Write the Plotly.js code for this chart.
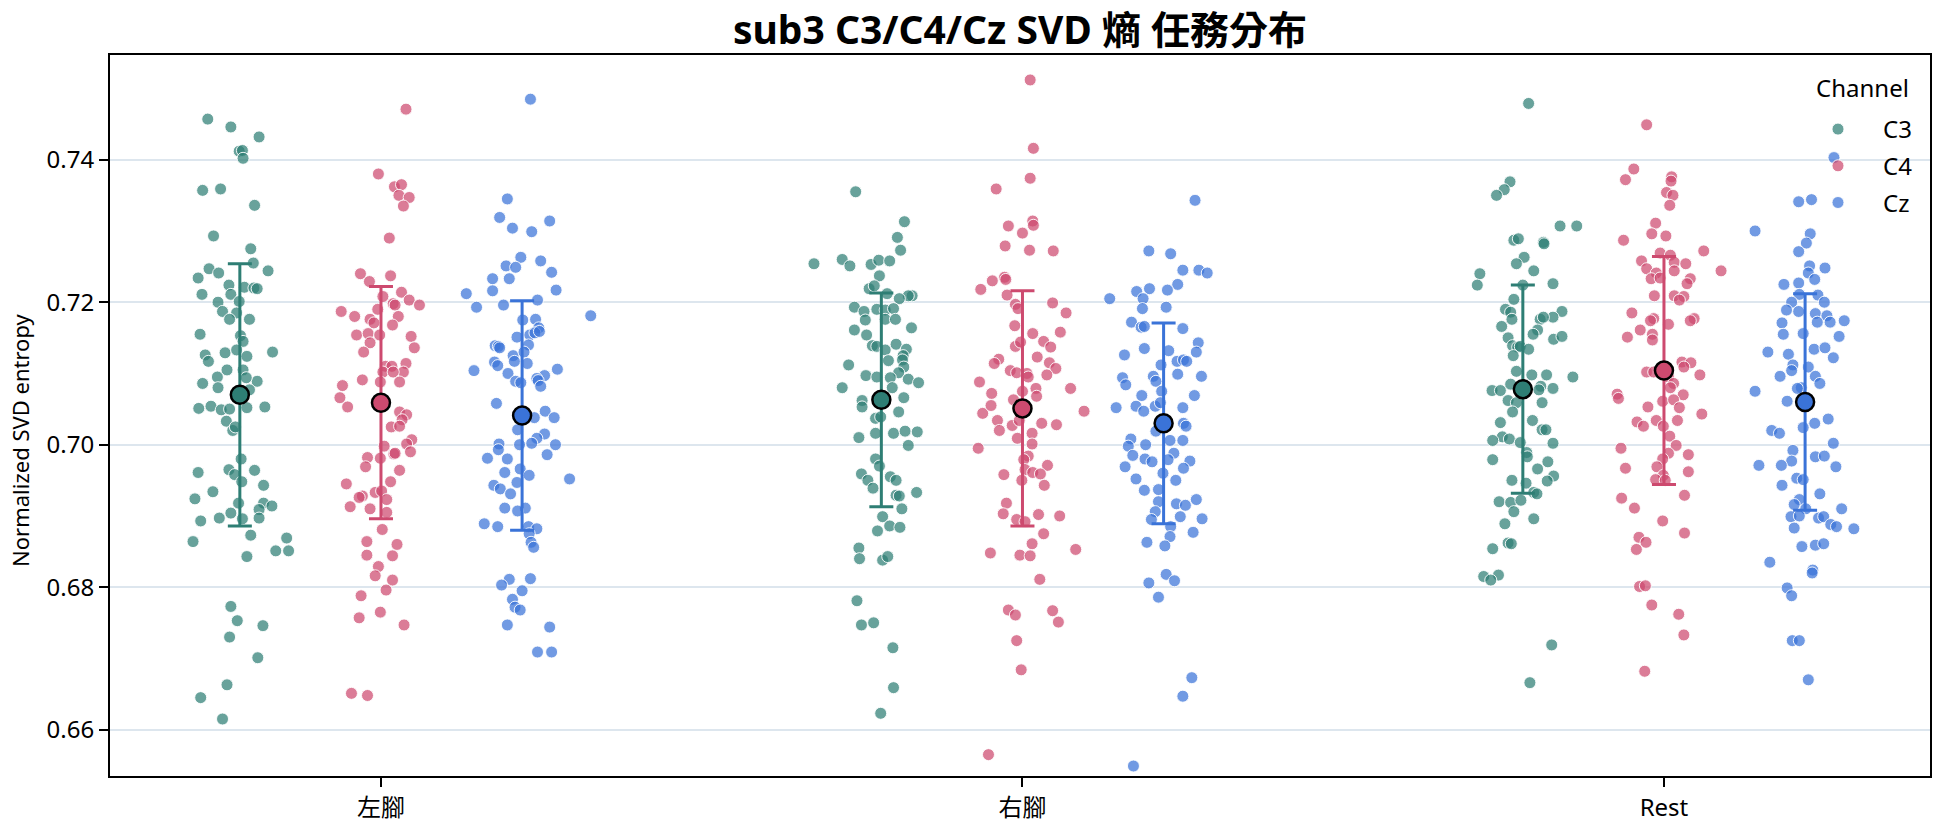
<!DOCTYPE html>
<html>
<head>
<meta charset="utf-8">
<script src="https://cdn.plot.ly/plotly-3.0.1.min.js"></script>
<style>
  html, body { margin: 0; padding: 0; background: #ffffff; }
  #chart { width: 1944px; height: 827px; }
</style>
</head>
<body>
<div id="chart"></div>
<script>
// Task categories and EEG channels
const categories = ['左腳', '右腳', 'Rest'];
const channels = ['C3', 'C4', 'Cz'];

// Per-trial normalized SVD entropy, with the horizontal strip jitter of each trial
const c3Left = [0.7457,0.7446,0.7432,0.7412,0.7413,0.7402,0.7357,0.7359,0.7336,0.7293,0.7275,0.7255,0.7247,0.7241,0.7234,0.7244,0.7224,0.7221,0.7220,0.7219,0.7211,0.7211,0.7200,0.7201,0.7187,0.7185,0.7176,0.7176,0.7155,0.7153,0.7145,0.7130,0.7129,0.7126,0.7117,0.7124,0.7133,0.7105,0.7105,0.7095,0.7086,0.7080,0.7089,0.7094,0.7077,0.7051,0.7054,0.7049,0.7050,0.7052,0.7053,0.7033,0.7020,0.7025,
  0.6980,0.6961,0.6965,0.6958,0.6964,0.6948,0.6943,0.6934,0.6924,0.6918,0.6918,0.6914,0.6909,0.6904,0.6897,0.6893,0.6897,0.6896,0.6873,0.6864,0.6869,0.6851,0.6851,0.6843,0.6773,0.6753,0.6746,0.6730,0.6701,0.6663,0.6645,0.6615];
const c3LeftJitter = [-0.050,-0.014,0.030,-0.001,0.004,0.005,-0.058,-0.030,0.023,-0.041,0.017,0.021,-0.048,-0.033,-0.065,0.044,-0.017,0.007,0.022,0.027,-0.059,-0.014,-0.034,-0.001,-0.027,-0.005,0.015,-0.016,-0.062,0.001,0.005,0.051,-0.023,-0.054,-0.049,0.011,-0.005,-0.020,0.005,-0.035,-0.058,-0.034,0.027,0.010,0.015,-0.064,-0.045,-0.029,-0.016,0.011,0.039,-0.021,-0.011,-0.007,
  0.002,-0.065,-0.017,-0.008,0.023,0.003,0.037,-0.042,-0.070,-0.002,0.037,0.050,0.030,-0.014,-0.032,-0.061,0.030,0.004,0.017,-0.073,0.073,0.056,0.076,0.011,-0.014,-0.004,0.036,-0.016,0.028,-0.020,-0.061,-0.027];

const c4Left = [0.7471,0.7380,0.7362,0.7365,0.7350,0.7347,0.7335,0.7290,0.7240,0.7237,0.7229,0.7214,0.7208,0.7203,0.7196,0.7198,0.7196,0.7187,0.7180,0.7190,0.7180,0.7176,0.7171,0.7168,0.7154,0.7156,0.7154,0.7152,0.7143,0.7136,0.7130,0.7110,0.7110,0.7114,0.7102,0.7102,0.7102,0.7091,0.7088,0.7088,0.7083,0.7066,0.7053,0.7046,0.7042,0.7035,0.7025,0.7026,
  0.7007,0.7001,0.6998,0.6982,0.6981,0.6987,0.6990,0.6988,0.6969,0.6964,0.6948,0.6945,0.6928,0.6926,0.6933,0.6935,0.6923,0.6913,0.6910,0.6905,0.6881,0.6864,0.6860,0.6845,0.6844,0.6829,0.6816,0.6810,0.6796,0.6788,0.6765,0.6757,0.6747,0.6651,0.6648];
const c4LeftJitter = [0.039,-0.004,0.021,0.032,0.028,0.044,0.035,0.013,-0.032,0.015,-0.018,0.032,0.003,0.044,0.060,0.019,0.022,-0.062,-0.041,-0.005,0.027,-0.017,-0.011,0.018,-0.038,-0.020,-0.002,0.047,-0.017,0.052,-0.027,0.007,0.017,0.039,0.035,0.003,0.019,-0.029,-0.001,0.029,-0.060,-0.064,-0.052,0.029,0.040,0.033,0.016,0.029,
  0.048,0.040,0.005,-0.021,-0.001,0.020,0.046,0.022,-0.024,0.029,0.015,-0.054,-0.029,-0.034,-0.009,0.001,0.009,-0.048,-0.017,0.009,0.002,-0.022,0.025,-0.022,0.018,-0.004,-0.009,0.018,0.008,-0.031,-0.001,-0.034,0.036,-0.046,-0.021];

const czLeft = [0.7485,0.7345,0.7319,0.7304,0.7299,0.7314,0.7263,0.7251,0.7249,0.7258,0.7242,0.7233,0.7233,0.7216,0.7217,0.7212,0.7203,0.7193,0.7196,0.7181,0.7175,0.7176,0.7164,0.7154,0.7157,0.7151,0.7159,0.7139,0.7138,0.7136,0.7140,0.7125,0.7130,0.7116,0.7111,0.7117,0.7114,0.7104,0.7106,0.7100,0.7097,0.7089,0.7093,0.7090,0.7087,0.7082,0.7058,0.7038,0.7047,0.7038,0.7021,0.7015,0.7009,
  0.7001,0.6993,0.7000,0.7002,0.7000,0.6981,0.6980,0.6986,0.6966,0.6961,0.6957,0.6943,0.6938,0.6931,0.6947,0.6911,0.6911,0.6907,0.6889,0.6885,0.6885,0.6882,0.6875,0.6863,0.6856,0.6952,0.6811,0.6812,0.6803,0.6795,0.6783,0.6772,0.6768,0.6747,0.6744,0.6709,0.6709];
const czLeftJitter = [0.013,-0.023,-0.035,-0.015,0.015,0.043,-0.002,-0.025,-0.010,0.029,0.046,-0.046,-0.020,-0.046,0.053,-0.087,0.024,-0.071,-0.029,0.107,0.001,0.021,0.026,0.012,0.020,-0.008,0.027,-0.042,-0.037,-0.035,0.010,-0.014,0.003,-0.043,-0.038,-0.012,0.008,-0.075,0.055,-0.022,0.035,-0.010,0.023,0.025,-0.002,0.029,-0.040,0.019,0.036,0.050,-0.007,0.035,0.023,
  -0.036,-0.037,-0.004,0.015,0.052,-0.054,-0.023,0.039,-0.003,-0.027,0.011,-0.044,-0.034,-0.018,-0.008,-0.027,0.005,-0.007,-0.059,-0.038,0.010,0.023,0.011,0.014,0.018,0.074,-0.020,0.013,-0.032,0.000,-0.015,-0.011,-0.003,-0.023,0.043,0.024,0.046];

const c3Right = [0.7355,0.7313,0.7291,0.7273,0.7254,0.7260,0.7251,0.7253,0.7259,0.7258,0.7237,0.7219,0.7223,0.7209,0.7209,0.7205,0.7212,0.7193,0.7187,0.7190,0.7189,0.7191,0.7175,0.7176,0.7176,0.7161,0.7154,0.7164,0.7139,0.7138,0.7133,0.7141,0.7134,0.7125,0.7119,0.7112,0.7118,0.7109,0.7101,0.7094,0.7097,0.7095,0.7080,0.7092,0.7087,0.7080,0.7066,0.7062,0.7053,0.7046,0.7037,0.7039,0.7010,0.7016,0.7016,0.7019,0.7018,
  0.6999,0.6980,0.6970,0.6959,0.6950,0.6955,0.6950,0.6939,0.6933,0.6929,0.6928,0.6910,0.6899,0.6886,0.6884,0.6879,0.6855,0.6840,0.6838,0.6843,0.6781,0.6747,0.6750,0.6715,0.6659,0.6623];
const c3RightJitter = [-0.040,0.036,0.025,0.030,-0.105,-0.061,-0.049,-0.016,-0.004,0.013,-0.003,-0.019,-0.011,0.048,0.042,0.028,0.009,-0.042,-0.027,-0.007,0.006,0.019,-0.025,0.006,0.022,-0.042,-0.023,0.047,-0.014,-0.007,0.006,0.023,0.039,0.034,0.033,-0.051,0.011,0.035,0.027,0.014,-0.024,-0.007,-0.061,0.042,0.058,0.017,0.035,-0.030,-0.030,0.027,-0.009,-0.001,-0.035,-0.009,0.019,0.037,0.056,
  0.042,-0.009,-0.003,-0.031,-0.021,0.014,0.023,-0.013,0.055,0.023,0.028,0.032,0.002,0.013,0.029,-0.006,-0.035,-0.034,0.002,0.010,-0.038,-0.031,-0.012,0.018,0.019,-0.001];

const c4Right = [0.7512,0.7416,0.7374,0.7359,0.7307,0.7314,0.7308,0.7297,0.7279,0.7273,0.7272,0.7218,0.7230,0.7235,0.7232,0.7210,0.7197,0.7191,0.7199,0.7185,0.7167,0.7156,0.7158,0.7145,0.7137,0.7138,0.7144,0.7120,0.7114,0.7123,0.7115,0.7107,0.7098,0.7104,0.7101,0.7100,0.7095,0.7088,0.7079,0.7072,0.7075,0.7079,0.7068,0.7063,0.7052,0.7044,0.7055,0.7034,0.7020,0.7027,0.7034,0.7030,0.7028,0.7047,0.7009,0.7016,
  0.6995,0.7001,0.6984,0.6979,0.6971,0.6958,0.6965,0.6961,0.6959,0.6950,0.6943,0.6918,0.6903,0.6895,0.6892,0.6902,0.6900,0.6875,0.6861,0.6848,0.6845,0.6844,0.6853,0.6811,0.6768,0.6761,0.6767,0.6751,0.6725,0.6684,0.6565];
const c4RightJitter = [0.012,0.017,0.012,-0.041,-0.022,0.016,0.017,0.000,-0.027,0.011,0.048,-0.065,-0.047,-0.028,-0.026,-0.024,-0.011,-0.007,0.047,0.068,-0.012,0.016,0.059,0.033,0.044,-0.011,-0.003,-0.037,-0.044,0.023,0.042,0.052,0.038,-0.019,-0.009,0.007,0.009,-0.067,0.075,-0.048,0.000,0.021,0.022,-0.014,-0.007,-0.062,-0.049,-0.039,-0.036,-0.016,-0.005,0.030,0.053,0.096,-0.008,0.015,
  -0.069,0.015,0.009,0.002,0.039,-0.029,0.004,0.016,0.028,-0.001,0.034,-0.025,-0.030,-0.009,0.004,0.025,0.058,0.033,0.015,-0.050,-0.004,0.012,0.083,0.027,-0.022,-0.011,0.047,0.056,-0.009,-0.002,-0.053];

const czRight = [0.7343,0.7272,0.7268,0.7245,0.7245,0.7241,0.7225,0.7217,0.7219,0.7215,0.7205,0.7205,0.7191,0.7193,0.7172,0.7165,0.7166,0.7163,0.7143,0.7126,0.7135,0.7132,0.7130,0.7117,0.7119,0.7117,0.7112,0.7096,0.7089,0.7099,0.7096,0.7094,0.7084,0.7069,0.7075,0.7069,0.7052,0.7054,0.7047,0.7054,0.7052,0.7059,0.7030,0.7026,0.7019,0.7008,
  0.6998,0.7000,0.7006,0.7006,0.6985,0.6980,0.6976,0.6988,0.6979,0.6977,0.6969,0.6967,0.6960,0.6952,0.6950,0.6936,0.6937,0.6923,0.6917,0.6915,0.6920,0.6906,0.6895,0.6896,0.6899,0.6885,0.6877,0.6871,0.6863,0.6858,0.6818,0.6809,0.6806,0.6786,0.6673,0.6647,0.6549];
const czRightJitter = [0.049,-0.023,0.011,0.030,0.055,0.068,0.022,0.006,-0.022,-0.042,-0.032,-0.084,-0.033,0.004,-0.050,-0.035,-0.030,0.030,0.054,-0.061,-0.030,0.008,0.051,0.021,0.031,0.036,-0.004,-0.016,-0.012,0.022,0.059,-0.064,-0.059,-0.034,-0.003,0.048,-0.074,-0.043,-0.031,-0.013,0.030,-0.005,0.031,0.035,-0.012,-0.051,
  -0.055,-0.028,0.010,0.030,-0.048,-0.029,-0.018,0.016,0.007,0.041,-0.060,0.031,-0.001,-0.043,0.019,-0.030,-0.008,0.051,0.020,0.034,-0.008,-0.013,-0.019,0.060,0.026,0.011,0.046,0.010,-0.026,0.002,0.004,0.017,-0.023,-0.008,0.044,0.030,-0.047];

const c3Rest = [0.7479,0.7369,0.7358,0.7350,0.7307,0.7307,0.7287,0.7289,0.7284,0.7282,0.7263,0.7254,0.7244,0.7240,0.7224,0.7226,0.7224,0.7204,0.7190,0.7186,0.7176,0.7187,0.7179,0.7176,0.7179,0.7166,0.7161,0.7155,0.7148,0.7152,0.7150,0.7139,0.7137,0.7138,0.7134,0.7125,0.7103,0.7098,0.7098,0.7095,0.7076,0.7076,0.7085,0.7082,0.7079,0.7077,0.7062,0.7059,0.7059,0.7046,0.7031,0.7034,0.7021,0.7021,0.7011,0.7008,
  0.7006,0.7003,0.7002,0.6979,0.6989,0.6983,0.6976,0.6966,0.6950,0.6946,0.6956,0.6949,0.6920,0.6919,0.6922,0.6933,0.6931,0.6906,0.6889,0.6896,0.6854,0.6862,0.6861,0.6815,0.6817,0.6810,0.6719,0.6666];
const c3RestJitter = [0.009,-0.020,-0.029,-0.041,0.058,0.084,-0.014,-0.007,0.032,0.033,0.002,-0.010,0.017,-0.067,-0.071,0.047,0.000,-0.014,-0.027,-0.019,-0.017,0.061,0.047,0.027,0.032,-0.033,0.023,0.016,0.048,0.061,-0.023,-0.016,-0.008,-0.004,0.009,-0.015,-0.010,0.014,0.037,0.078,-0.048,-0.035,-0.019,0.028,0.047,0.025,-0.023,-0.010,0.030,-0.016,-0.035,0.015,0.030,0.036,-0.032,-0.021,
  -0.047,-0.004,0.047,-0.047,0.006,0.007,0.039,0.023,-0.017,0.005,0.048,0.038,-0.037,-0.019,-0.003,0.017,0.022,-0.014,-0.028,0.017,-0.047,-0.023,-0.018,-0.061,-0.038,-0.050,0.045,0.011];

const c4Rest = [0.7449,0.7387,0.7372,0.7376,0.7370,0.7354,0.7350,0.7336,0.7311,0.7296,0.7293,0.7287,0.7269,0.7266,0.7272,0.7258,0.7256,0.7254,0.7244,0.7247,0.7241,0.7244,0.7233,0.7234,0.7233,0.7226,0.7209,0.7209,0.7208,0.7203,0.7185,0.7177,0.7174,0.7169,0.7177,0.7174,0.7161,0.7155,0.7147,0.7151,0.7116,0.7115,0.7109,0.7102,0.7102,0.7098,0.7095,0.7086,0.7080,0.7071,0.7065,0.7061,0.7070,0.7063,0.7053,0.7052,0.7043,0.7032,0.7026,0.7034,0.7034,0.7026,0.7012,
  0.6995,0.6999,0.6986,0.6988,0.6980,0.6967,0.6969,0.6962,0.6957,0.6951,0.6950,0.6925,0.6911,0.6929,0.6893,0.6876,0.6870,0.6863,0.6853,0.6801,0.6802,0.6775,0.6762,0.6733,0.6682];
const c4RestJitter = [-0.027,-0.047,-0.060,0.012,0.011,0.004,0.014,0.009,-0.013,-0.019,0.003,-0.063,-0.006,0.010,0.062,-0.035,0.016,0.034,0.089,-0.027,-0.012,0.016,-0.020,-0.006,0.041,0.036,-0.015,0.016,0.031,0.024,-0.050,-0.016,-0.021,0.007,0.047,0.041,-0.037,-0.018,-0.018,-0.057,0.028,0.042,0.031,-0.027,-0.016,0.056,0.007,0.015,0.010,-0.073,-0.071,-0.002,0.030,0.015,-0.025,0.024,0.059,-0.042,-0.032,-0.012,0.021,-0.001,0.009,
  -0.067,0.019,0.038,0.007,-0.002,-0.060,-0.011,0.038,-0.001,-0.013,0.002,-0.066,-0.046,0.032,-0.002,0.032,-0.039,-0.028,-0.043,-0.038,-0.029,-0.019,0.023,0.031,-0.030];

const czRest = [0.7403,0.7341,0.7344,0.7300,0.7296,0.7283,0.7271,0.7251,0.7248,0.7241,0.7232,0.7225,0.7227,0.7211,0.7210,0.7200,0.7200,0.7189,0.7187,0.7184,0.7181,0.7172,0.7174,0.7172,0.7171,0.7155,0.7156,0.7152,0.7130,0.7127,0.7134,0.7136,0.7122,0.7112,0.7104,0.7109,0.7096,0.7096,0.7086,0.7080,0.7075,0.7061,0.7079,0.7036,0.7030,0.7024,0.7020,0.7016,
  0.7002,0.6992,0.6977,0.6983,0.6984,0.6969,0.6971,0.6971,0.6953,0.6951,0.6943,0.6931,0.6923,0.6916,0.6910,0.6910,0.6899,0.6900,0.6897,0.6899,0.6888,0.6885,0.6882,0.6883,0.6857,0.6859,0.6861,0.6835,0.6824,0.6820,0.6799,0.6788,0.6725,0.6725,0.6670];
const czRestJitter = [0.045,-0.010,0.010,-0.078,0.008,0.002,-0.010,0.007,0.031,0.005,0.015,-0.033,-0.010,-0.009,0.020,0.030,-0.021,-0.029,-0.010,0.016,0.034,0.039,0.061,0.019,-0.036,-0.034,-0.003,0.053,-0.058,-0.026,0.014,0.031,0.044,-0.019,-0.021,0.005,0.016,-0.039,0.023,-0.006,-0.078,-0.028,-0.012,0.036,0.015,-0.003,-0.052,-0.040,
  0.044,-0.019,-0.021,0.016,0.030,0.048,-0.072,-0.037,-0.013,-0.003,-0.036,0.023,-0.009,-0.017,0.057,0.001,-0.022,-0.009,0.021,0.029,0.040,0.049,0.076,-0.017,-0.005,0.016,0.029,-0.055,0.012,0.011,-0.028,-0.021,-0.020,-0.009,0.005];

// Mean and standard deviation per task (order follows `categories`)
const meanC3 = [0.7070, 0.7063, 0.7078];
const sdC3   = [0.0184, 0.0150, 0.0146];
const meanC4 = [0.7059, 0.7051, 0.7104];
const sdC4   = [0.0163, 0.0165, 0.0160];
const meanCz = [0.7041, 0.7030, 0.7060];
const sdCz   = [0.0161, 0.0141, 0.0152];

// ---- drawing ----
const FONT = "'Noto Sans', 'Noto Sans CJK TC', sans-serif";
const DODGE = [-0.22, 0, 0.22];
const STYLE = {
  C3: { solid: '#2e7e74', light: 'rgba(46,126,116,0.72)' },
  C4: { solid: '#cd4a6f', light: 'rgba(205,74,111,0.72)' },
  Cz: { solid: '#3a73d8', light: 'rgba(58,115,216,0.72)' }
};

const pointSets = {
  C3: [[c3Left, c3LeftJitter], [c3Right, c3RightJitter], [c3Rest, c3RestJitter]],
  C4: [[c4Left, c4LeftJitter], [c4Right, c4RightJitter], [c4Rest, c4RestJitter]],
  Cz: [[czLeft, czLeftJitter], [czRight, czRightJitter], [czRest, czRestJitter]]
};
const summary = {
  C3: [meanC3, sdC3],
  C4: [meanC4, sdC4],
  Cz: [meanCz, sdCz]
};

const traces = [];
channels.forEach((ch, k) => {
  const xs = [], ys = [];
  pointSets[ch].forEach(([vals, jit], ci) => {
    const n = Math.min(vals.length, jit.length);
    for (let i = 0; i < n; i++) {
      xs.push(ci + DODGE[k] + jit[i]);
      ys.push(vals[i]);
    }
  });
  traces.push({
    type: 'scatter', mode: 'markers', name: ch, legendgroup: ch, x: xs, y: ys,
    marker: { size: 12, color: STYLE[ch].light, line: { color: 'rgba(255,255,255,0.9)', width: 1 } },
    hoverinfo: 'y'
  });
});

channels.forEach((ch, k) => {
  const [m, sd] = summary[ch];
  traces.push({
    type: 'scatter', mode: 'markers', showlegend: false, legendgroup: ch,
    x: categories.map((_, ci) => ci + DODGE[k]), y: m,
    error_y: { type: 'data', array: sd, visible: true, thickness: 3, width: 12, color: STYLE[ch].solid },
    marker: { size: 18, color: STYLE[ch].solid, line: { color: '#000000', width: 2.5 } },
    hoverinfo: 'y'
  });
});

const axisCommon = {
  showline: true, mirror: true, linecolor: '#000000', linewidth: 2,
  ticks: 'outside', ticklen: 9, tickwidth: 2, tickcolor: '#000000',
  zeroline: false, tickfont: { family: FONT, size: 24, color: '#000000' }
};

const layout = {
  width: 1944, height: 827,
  margin: { l: 110, r: 14, t: 55, b: 51 },
  paper_bgcolor: '#ffffff', plot_bgcolor: '#ffffff',
  font: { family: FONT, color: '#000000' },
  title: {
    text: 'sub3 C3/C4/Cz SVD 熵 任務分布',
    font: { family: FONT, size: 39, weight: 700, color: '#000000' },
    x: 0.5, xref: 'paper', xanchor: 'center',
    y: 1 - 30 / 827, yref: 'container', yanchor: 'middle'
  },
  xaxis: Object.assign({}, axisCommon, {
    range: [-0.4224, 2.4147],
    tickmode: 'array', tickvals: [0, 1, 2], ticktext: categories,
    showgrid: false
  }),
  yaxis: Object.assign({}, axisCommon, {
    range: [0.6535, 0.7547],
    tickmode: 'array', tickvals: [0.66, 0.68, 0.70, 0.72, 0.74],
    ticktext: ['0.66', '0.68', '0.70', '0.72', '0.74'],
    showgrid: true, gridcolor: '#dde6ee', gridwidth: 2
  }),
  annotations: [
    {
      // y-axis title
      text: 'Normalized SVD entropy', textangle: -90, showarrow: false,
      xref: 'paper', yref: 'paper', x: -0.0495, y: 0.466,
      xanchor: 'center', yanchor: 'middle',
      font: { family: FONT, size: 22, color: '#000000' }
    },
    {
      // legend heading
      text: 'Channel', showarrow: false,
      xref: 'paper', yref: 'paper', x: (1862 - 110) / 1820, y: (776 - 88) / 721,
      xanchor: 'center', yanchor: 'middle',
      font: { family: FONT, size: 24, color: '#000000' }
    }
  ],
  legend: {
    x: 0.9934, xanchor: 'right', y: (776 - 107) / 721, yanchor: 'top',
    bgcolor: 'rgba(0,0,0,0)', borderwidth: 0,
    font: { family: FONT, size: 24, color: '#000000' },
    itemwidth: 80, tracegroupgap: 2.5, traceorder: 'grouped'
  },
  showlegend: true
};

Plotly.newPlot('chart', traces, layout, { displayModeBar: false, staticPlot: true });
</script>
</body>
</html>
